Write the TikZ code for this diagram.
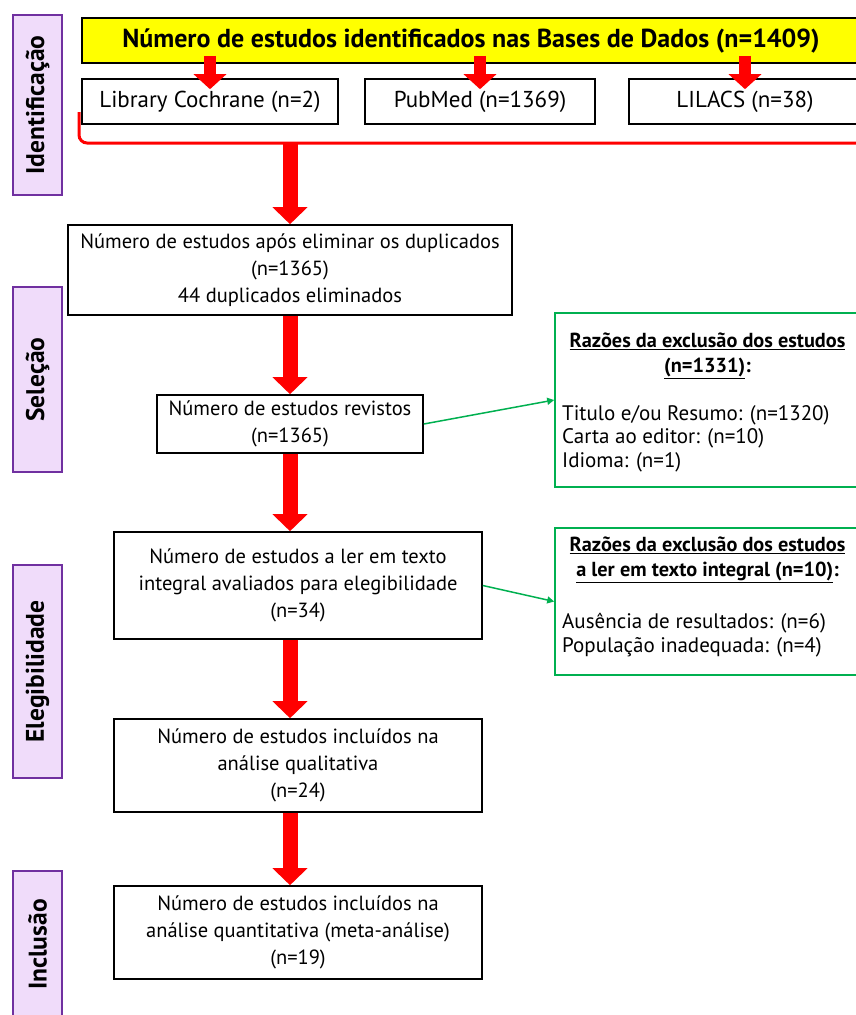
\documentclass[tikz,border=0pt]{standalone}
\usepackage{fontspec}
\setmainfont{PT Sans}
\usetikzlibrary{arrows.meta}
\definecolor{vermelho}{HTML}{FF0000}
\definecolor{amarelo}{HTML}{FFFF00}
\definecolor{verde}{HTML}{00B050}
\definecolor{fasebord}{HTML}{7030A0}
\definecolor{fasefill}{HTML}{F0DCFA}

\begin{document}
\begin{tikzpicture}[x=1pt,y=-1pt,
    every node/.style={font=\fontsize{20.5}{27}\selectfont},
    box/.style={draw,line width=1.6pt,align=center,inner sep=0pt},
    base/.style={box,minimum height=45pt,font=\fontsize{23}{27}\selectfont},
    fase/.style={draw=fasebord,fill=fasefill,line width=1.8pt,rotate=90,inner sep=0pt,
        minimum height=49pt,font=\fontsize{25.5}{28}\selectfont\bfseries},
    razao/.style={draw=verde,line width=1.6pt,inner sep=0pt},
    razaotit/.style={align=center,inner sep=0pt,font=\fontsize{20.3}{25}\selectfont\bfseries},
    razaotxt/.style={align=left,inner sep=0pt,anchor=west,font=\fontsize{21}{23.5}\selectfont},
    bigarr/.style={vermelho,line width=15pt,-{Triangle[width=34pt,length=17pt]}},
    smallarr/.style={vermelho,line width=12pt,-{Triangle[width=32pt,length=15pt]}},
    grarr/.style={verde,line width=1.5pt,-{Triangle[width=7pt,length=7pt]}}]
    \useasboundingbox (0,0) rectangle (856,1015);
    \clip (0,0) rectangle (856,1015);

    % fases
    \node[fase,minimum width=180pt] (ident) at (37.5,105) {Identificação};
    \node[fase,minimum width=185pt] (sel) at (37.5,379.5) {Seleção};
    \node[fase,minimum width=213pt] (eleg) at (37.5,671.5) {Elegibilidade};
    \node[fase,minimum width=147pt] (incl) at (37.5,944.5) {Inclusão};

    % identificacao
    \node[box,fill=amarelo,minimum width=778pt,minimum height=45pt,
        font=\fontsize{26}{28}\selectfont\bfseries] (bases) at (471,40.5)
        {Número de estudos identificados nas Bases de Dados (n=1409)};
    \node[base,minimum width=256pt] (coch) at (210,101.5) {Library Cochrane (n=2)};
    \node[base,minimum width=230pt] (pubm) at (480,101.5) {PubMed (n=1369)};
    \node[base,minimum width=232pt] (lil) at (745,101.5) {LILACS (n=38)};
    \draw[vermelho,line width=3pt,rounded corners=8pt] (79,112) -- (79,143) -- (870,143);
    \coordinate (chave) at (290,143);
    \coordinate (eixo) at (290,0);

    % selecao
    \node[box,minimum width=444pt,minimum height=90pt] (dup) at (290,270)
        {Número de estudos após eliminar os duplicados\\(n=1365)\\44 duplicados eliminados};
    \node[box,minimum width=266pt,minimum height=58pt] (rev) at (290,424)
        {Número de estudos revistos\\(n=1365)};

    % elegibilidade e inclusao
    \node[box,minimum width=368pt,minimum height=107pt] (integ) at (298,585.5)
        {Número de estudos a ler em texto\\integral avaliados para elegibilidade\\(n=34)};
    \node[box,minimum width=368pt,minimum height=93pt] (qual) at (298,765.5)
        {Número de estudos incluídos na\\análise qualitativa\\(n=24)};
    \node[box,minimum width=368pt,minimum height=93pt] (quant) at (298,932.5)
        {Número de estudos incluídos na\\análise quantitativa (meta-análise)\\(n=19)};

    % exclusoes
    \node[razao,minimum width=305pt,minimum height=174pt] (excl1) at (707.5,400) {};
    \node[razaotit] (tit1) at (707.5,355.5) {\underline{Razões da exclusão dos estudos}\\\underline{(n=1331)}:};
    \node[razaotxt] (txt1) at (562,438.5) {Titulo e/ou Resumo: (n=1320)\\Carta ao editor: (n=10)\\Idioma: (n=1)};
    \node[razao,minimum width=305pt,minimum height=147pt] (excl2) at (707.5,601.5) {};
    \node[razaotit] (tit2) at (707.5,559.5) {\underline{Razões da exclusão dos estudos}\\\underline{a ler em texto integral (n=10)}:};
    \node[razaotxt] (txt2) at (562,635) {Ausência de resultados: (n=6)\\População inadequada: (n=4)};

    % setas
    \draw[smallarr] ([yshift=8pt]bases.south -| coch.north) -- ([yshift=-11pt]coch.north);
    \draw[smallarr] ([yshift=8pt]bases.south -| pubm.north) -- ([yshift=-11pt]pubm.north);
    \draw[smallarr] ([yshift=8pt]bases.south -| lil.north) -- ([yshift=-11pt]lil.north);
    \draw[bigarr] (chave) -- (dup.north);
    \draw[bigarr] (dup.south) -- (rev.north);
    \draw[bigarr] (rev.south) -- (integ.north -| eixo);
    \draw[bigarr] (integ.south -| eixo) -- (qual.north -| eixo);
    \draw[bigarr] (qual.south -| eixo) -- (quant.north -| eixo);
    \draw[grarr] (rev.east) -- (excl1.west);
    \draw[grarr] (integ.east) -- (excl2.west);
\end{tikzpicture}
\end{document}
